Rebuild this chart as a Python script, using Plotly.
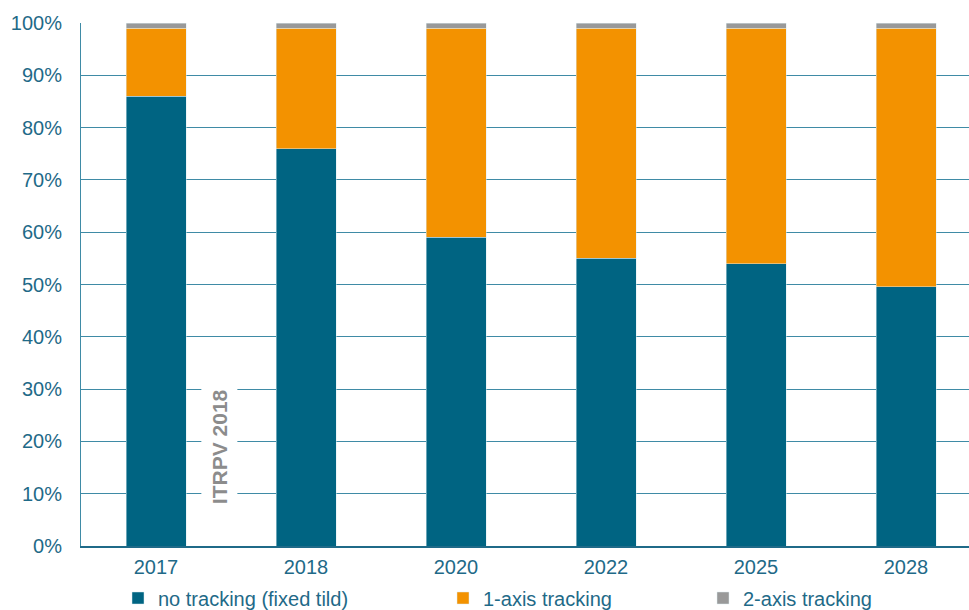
import plotly.graph_objects as go

# Share of PV installations by tracking type (ITRPV 2018)
years = ["2017", "2018", "2020", "2022", "2025", "2028"]
no_tracking = [86, 76, 59, 55, 54, 49.6]
two_axis = [1, 1, 1, 1, 1, 1]
one_axis = [100 - a - b for a, b in zip(no_tracking, two_axis)]
y_ticks = [0, 10, 20, 30, 40, 50, 60, 70, 80, 90, 100]

TEAL = "#006482"
ORANGE = "#f39200"
GREY = "#999999"
TEXT = "#1f6a88"
GRID = "#3f8ba6"
FONT = "Liberation Sans, Arial, sans-serif"
W, H = 969, 610

fig = go.Figure()
series = [
    ("no tracking (fixed tild)", no_tracking, TEAL, "legend"),
    ("1-axis tracking", one_axis, ORANGE, "legend2"),
    ("2-axis tracking", two_axis, GREY, "legend3"),
]
for name, vals, color, leg in series:
    fig.add_trace(go.Bar(
        x=years, y=vals, name=name, legend=leg, showlegend=True,
        marker=dict(color=color, line=dict(width=0.6, color="rgba(220,235,240,0.8)")),
        width=0.4,
    ))


def legend_at(px):
    return dict(
        orientation="h",
        xref="container", yref="container",
        x=px / W, xanchor="left",
        y=12 / H, yanchor="middle",
        font=dict(family=FONT, size=20, color=TEXT),
        bgcolor="rgba(0,0,0,0)", itemwidth=30, borderwidth=0,
    )


fig.update_layout(
    width=W, height=H,
    margin=dict(l=81, r=0, t=23, b=64),
    barmode="stack",
    plot_bgcolor="white", paper_bgcolor="white",
    font=dict(family=FONT, size=20, color=TEXT),
    legend=legend_at(118),
    legend2=legend_at(443),
    legend3=legend_at(703),
    xaxis=dict(
        type="category", range=[-0.5, 5.42],
        showline=True, linecolor=TEXT, linewidth=1.5,
        ticks="", tickfont=dict(size=20, color=TEXT),
        ticklabelstandoff=2, showgrid=False,
    ),
    yaxis=dict(
        range=[0, 100], tickvals=y_ticks,
        ticktext=[f"{v}%" for v in y_ticks],
        showgrid=True, gridcolor=GRID, gridwidth=1.2,
        showline=True, linecolor=GRID, linewidth=1,
        zeroline=False, ticks="", tickfont=dict(size=20, color=TEXT),
        ticklabelstandoff=14,
    ),
    bargap=0.6,
)

fig.add_annotation(
    x=0.42, y=18.9, xref="x", yref="y",
    text="<b>ITRPV 2018</b>", textangle=-90, showarrow=False,
    font=dict(family=FONT, size=21, color="#8c8c8c"),
    bgcolor="white", borderpad=6,
)

fig.write_html("out.html")
